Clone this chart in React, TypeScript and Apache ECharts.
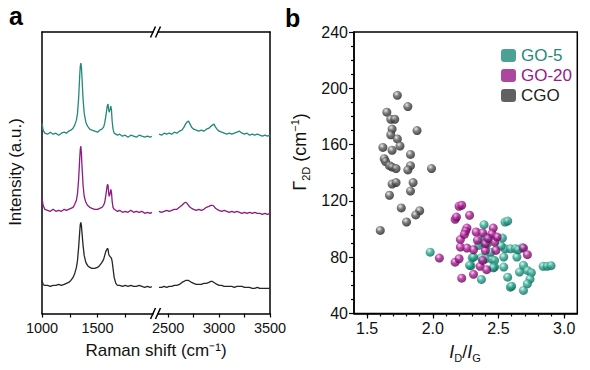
import React, { useEffect, useRef } from 'react';
import * as echarts from 'echarts';

// ---------- Panel a: Raman spectra ----------
const leftShift = [1000,1010,1025,1050,1075,1100,1125,1150,1175,1200,1220,1240,1260,1280,1295,1310,1320,1330,1340,1345,1350,1355,1360,1370,1380,1395,1410,1430,1450,1475,1500,1520,1540,1555,1565,1575,1585,1590,1595,1600,1605,1612,1620,1626,1632,1640,1650,1665,1680,1700,1725,1750,1775,1800,1825,1850,1875,1900,1925,1950,1975,1990];
const rightShift = [2410,2435,2460,2485,2510,2535,2560,2585,2610,2635,2655,2670,2685,2700,2715,2730,2750,2775,2800,2825,2850,2875,2900,2920,2935,2950,2965,2980,3000,3025,3050,3075,3100,3125,3150,3175,3200,3225,3250,3275,3300,3325,3350,3375,3400,3425,3450,3475,3500];

const go5Left = [190,183,180,179,181,179,180,178,180,181,180,182,183,185,188,193,200,215,238,247,250,246,236,214,200,191,187,184,183,182,181,183,184,186,190,197,205,208,209,204,201,203,207,203,192,184,180,179,178,179,177,178,176,178,177,176,178,177,176,177,176,177];
const go20Left = [115,108,104,103,102,104,102,103,102,104,103,104,105,106,109,113,120,134,155,164,167,160,148,128,117,111,108,106,105,104,104,105,106,108,111,118,126,129,128,121,117,119,124,121,112,106,104,103,102,103,101,102,101,103,101,102,101,102,100,101,100,101];
const cgoLeft = [33,29,28,28,27,28,28,29,28,29,30,31,33,36,40,46,53,66,82,89,91,88,81,68,58,51,48,46,45,45,46,48,51,54,58,62,64,65,64,60,58,57,56,55,52,45,36,30,28,28,27,28,27,28,27,27,28,27,26,27,26,27];

const go5Right = [179,178,180,179,180,179,181,180,182,183,186,189,191,192,189,186,184,183,182,183,182,184,185,187,188,189,186,184,182,181,180,179,180,179,180,181,182,180,179,180,178,179,178,179,178,177,178,177,178];
const go20Right = [102,101,102,103,102,103,104,104,106,108,110,111,110,108,106,105,104,103,104,103,104,106,107,108,108,107,105,104,103,102,103,102,101,102,101,102,101,100,101,100,101,100,101,100,100,99,100,99,100];
const cgoRight = [26,26,27,26,27,27,28,28,29,31,32,33,33,33,32,31,30,29,29,29,30,30,31,32,32,31,30,29,28,28,27,27,27,27,26,27,27,27,26,26,26,25,25,26,25,25,25,25,25];

const ramanTicksLeft = [1000, 1250, 1500, 1750];
const ramanLabelsLeft = [1000, 1500];
const ramanTicksRight = [2500, 2750, 3000, 3250, 3500];
const ramanLabelsRight = [2500, 3000, 3500];

// ---------- Panel b: Gamma_2D vs ID/IG ----------
const cgoRatio = [1.73,1.81,1.65,1.68,1.71,1.88,1.69,1.68,1.73,1.75,1.62,1.69,1.83,1.63,1.64,1.67,1.69,1.72,1.83,1.81,1.99,1.69,1.72,1.85,1.83,1.67,1.76,1.90,1.87,1.80,1.60];
const cgoWidth = [195,187,183,178,178,170,171,167,164,159,158,156,153,150,148,145,144,143,145,142,143,132,133,133,127,124,115,113,110,105,99];

const go20Ratio = [2.20,2.22,2.28,2.17,2.18,2.26,2.25,2.33,2.38,2.46,2.45,2.21,2.24,2.21,2.26,2.31,2.40,2.48,2.47,2.49,2.05,2.17,2.20,2.36,2.41,2.22,2.31,2.69,2.72,2.38,2.40,2.42,2.34];
const go20Width = [116.2,116.9,109.8,106.9,108.5,100.7,98.6,97.9,97.2,100.7,96.7,92.5,96.2,87.2,86.5,85.3,84.8,84.8,90.7,94.3,79.4,76.5,78.9,73.5,71.1,65.1,67.8,86.5,81.8,77.7,89.6,93.2,92.0];

const go5Ratio = [1.98,2.39,2.55,2.57,2.53,2.40,2.44,2.36,2.41,2.35,2.30,2.29,2.37,2.37,2.40,2.45,2.47,2.47,2.28,2.55,2.59,2.63,2.68,2.54,2.64,2.65,2.54,2.46,2.57,2.59,2.66,2.69,2.72,2.75,2.74,2.72,2.69,2.60,2.84,2.87,2.90,2.31,2.52,2.44];
const go5Width = [83.6,103.1,105.0,105.7,93.6,94.3,93.2,90.7,89.0,88.4,79.6,74.0,64.2,79.6,78.9,78.4,77.7,73.0,74.2,86.0,86.0,86.0,86.8,80.1,80.1,85.3,73.0,72.5,65.8,58.7,69.4,74.2,70.6,69.0,64.5,61.1,56.4,59.4,73.5,73.5,74.0,80.1,88.0,83.6];

const ratioMajorTicks = [1.5, 2.0, 2.5, 3.0];
const ratioMinorTicks = [1.5,1.6,1.7,1.8,1.9,2.0,2.1,2.2,2.3,2.4,2.5,2.6,2.7,2.8,2.9,3.0];

const FONT = '"Liberation Sans", Arial, Helvetica, sans-serif';
const TEAL = '#1e8a78';
const MAGENTA = '#971886';

const pairs = (xs: number[], ys: number[]) => xs.map((x, i) => [x, ys[i]]);

const sphere = (hi: string, mid: string, dark: string) => ({
  type: 'radial', x: 0.38, y: 0.32, r: 0.7,
  colorStops: [
    { offset: 0, color: hi },
    { offset: 0.45, color: mid },
    { offset: 1, color: dark },
  ],
});

export default function App() {
  const ref = useRef<HTMLDivElement>(null);
  useEffect(() => {
    if (!ref.current) return;
    const chart = echarts.init(ref.current, undefined, { renderer: 'svg' });
    const axisLine = { show: true, lineStyle: { color: '#000', width: 1.5 } };
    const hiddenAxis = { axisTick: { show: false }, axisLabel: { show: false }, splitLine: { show: false } };
    const ramanLabel = { fontSize: 14.5, color: '#111', fontFamily: FONT, margin: 7, formatter: (v: number) => String(v) };

    const lineSeries = (name: string, xi: number, xs: number[], ys: number[], color: string) => ({
      name, type: 'line', xAxisIndex: xi, yAxisIndex: xi < 2 ? 0 : 1,
      data: pairs(xs, ys), showSymbol: false, symbol: 'none',
      lineStyle: { color, width: 1.3 }, itemStyle: { color }, silent: true,
    });

    const breakLines = (y: number) => [
      { type: 'line', shape: { x1: 150.5, y1: y + 5.5, x2: 155.5, y2: y - 5.5 }, style: { stroke: '#000', lineWidth: 1.5 } },
      { type: 'line', shape: { x1: 155.5, y1: y + 5.5, x2: 160.5, y2: y - 5.5 }, style: { stroke: '#000', lineWidth: 1.5 } },
    ];

    chart.setOption({
      animation: false,
      backgroundColor: '#fff',
      grid: [
        { left: 42, top: 32, width: 111, height: 281.5 },
        { left: 158, top: 32, width: 112, height: 281.5 },
        { left: 354, top: 32, width: 223.3, height: 281.5, show: true, borderColor: '#000', borderWidth: 1.5, backgroundColor: 'transparent' },
      ],
      xAxis: [
        { gridIndex: 0, type: 'value', position: 'bottom', min: 1000, max: 2000, axisLine,
          axisTick: { show: true, length: 4, lineStyle: { color: '#000', width: 1.2 }, customValues: ramanTicksLeft },
          axisLabel: { ...ramanLabel, customValues: ramanLabelsLeft }, splitLine: { show: false } },
        { gridIndex: 0, type: 'value', position: 'top', min: 1000, max: 2000, axisLine, ...hiddenAxis },
        { gridIndex: 1, type: 'value', position: 'bottom', min: 2400, max: 3500, axisLine,
          axisTick: { show: true, length: 4, lineStyle: { color: '#000', width: 1.2 }, customValues: ramanTicksRight },
          axisLabel: { ...ramanLabel, customValues: ramanLabelsRight }, splitLine: { show: false } },
        { gridIndex: 1, type: 'value', position: 'top', min: 2400, max: 3500, axisLine, ...hiddenAxis },
        { gridIndex: 2, type: 'value', position: 'bottom', min: 1.4, max: 3.1, axisLine,
          axisTick: { show: true, length: 5, lineStyle: { color: '#000', width: 1.2 }, customValues: ratioMajorTicks },
          axisLabel: { fontSize: 16, color: '#111', fontFamily: FONT, margin: 7, customValues: ratioMajorTicks, formatter: (v: number) => v.toFixed(1) },
          splitLine: { show: false } },
        { gridIndex: 2, type: 'value', position: 'bottom', min: 1.4, max: 3.1, axisLine: { show: false },
          axisTick: { show: true, length: 3, lineStyle: { color: '#000', width: 1.2 }, customValues: ratioMinorTicks },
          axisLabel: { show: false }, splitLine: { show: false } },
      ],
      yAxis: [
        { gridIndex: 0, type: 'value', position: 'left', min: 0, max: 281, axisLine, ...hiddenAxis },
        { gridIndex: 1, type: 'value', position: 'right', min: 0, max: 281, axisLine, ...hiddenAxis },
        { gridIndex: 2, type: 'value', position: 'left', min: 40, max: 240, interval: 40, axisLine,
          axisTick: { show: true, length: 5, lineStyle: { color: '#000', width: 1.2 } },
          minorTick: { show: true, splitNumber: 4, length: 3, lineStyle: { color: '#000', width: 1.2 } },
          axisLabel: { fontSize: 16, color: '#111', fontFamily: FONT, margin: 6 },
          splitLine: { show: false }, minorSplitLine: { show: false } },
      ],
      legend: {
        orient: 'vertical', left: 496, top: 42, itemWidth: 15, itemHeight: 13, itemGap: 3,
        icon: 'roundRect', selectedMode: false,
        textStyle: { fontSize: 17, fontFamily: FONT, lineHeight: 17 },
        data: [
          { name: 'GO-5', itemStyle: { color: TEAL }, textStyle: { color: TEAL } },
          { name: 'GO-20', itemStyle: { color: MAGENTA }, textStyle: { color: MAGENTA } },
          { name: 'CGO', itemStyle: { color: '#3a3a3a' }, textStyle: { color: '#222' } },
        ],
      },
      series: [
        lineSeries('GO-5 spectrum L', 0, leftShift, go5Left, '#23897a'),
        lineSeries('GO-20 spectrum L', 0, leftShift, go20Left, '#8c1a80'),
        lineSeries('CGO spectrum L', 0, leftShift, cgoLeft, '#262626'),
        lineSeries('GO-5 spectrum R', 2, rightShift, go5Right, '#23897a'),
        lineSeries('GO-20 spectrum R', 2, rightShift, go20Right, '#8c1a80'),
        lineSeries('CGO spectrum R', 2, rightShift, cgoRight, '#262626'),
        { name: 'CGO', type: 'scatter', xAxisIndex: 4, yAxisIndex: 2, symbolSize: 9,
          data: pairs(cgoRatio, cgoWidth), itemStyle: { color: sphere('#e6e6e6', '#5a5a5a', '#1c1c1c') } },
        { name: 'GO-5', type: 'scatter', xAxisIndex: 4, yAxisIndex: 2, symbolSize: 9,
          data: pairs(go5Ratio, go5Width), itemStyle: { color: sphere('#d2f3ea', '#2aa690', '#0c5f51') } },
        { name: 'GO-20', type: 'scatter', xAxisIndex: 4, yAxisIndex: 2, symbolSize: 9,
          data: pairs(go20Ratio, go20Width), itemStyle: { color: sphere('#f6c2ec', '#aa1893', '#5a064c') } },
      ],
      graphic: [
        { type: 'text', x: 9, y: 16, style: { text: 'a', font: `bold 25px ${FONT}`, fill: '#000', verticalAlign: 'middle' } },
        { type: 'text', x: 285, y: 18, style: { text: 'b', font: `bold 25px ${FONT}`, fill: '#000', verticalAlign: 'middle' } },
        { type: 'text', x: 15.5, y: 172, rotation: Math.PI / 2,
          style: { text: 'Intensity (a.u.)', font: `17px ${FONT}`, fill: '#111', align: 'center', verticalAlign: 'middle' } },
        { type: 'text', x: 156, y: 350,
          style: { text: 'Raman shift (cm⁻¹)', font: `17px ${FONT}`, fill: '#111', align: 'center', verticalAlign: 'middle' } },
        { type: 'text', x: 300, y: 152, rotation: Math.PI / 2,
          style: {
            text: '{g|Γ}{s|2D}{n| (cm}{p|−1}{n|)}', align: 'center', verticalAlign: 'middle',
            rich: {
              g: { fontSize: 18, fontFamily: FONT, fill: '#111', lineHeight: 22 },
              n: { fontSize: 18, fontFamily: FONT, fill: '#111', lineHeight: 22 },
              s: { fontSize: 11, fontFamily: FONT, fill: '#111', verticalAlign: 'bottom', lineHeight: 11 },
              p: { fontSize: 11, fontFamily: FONT, fill: '#111', verticalAlign: 'top', lineHeight: 11 },
            },
          } },
        { type: 'text', x: 465, y: 352,
          style: {
            text: '{i|I}{s|D}{n|/}{i|I}{s|G}', align: 'center', verticalAlign: 'middle',
            rich: {
              i: { fontSize: 18, fontFamily: FONT, fontStyle: 'italic', fill: '#111', lineHeight: 22 },
              n: { fontSize: 18, fontFamily: FONT, fill: '#111', lineHeight: 22 },
              s: { fontSize: 11, fontFamily: FONT, fill: '#111', verticalAlign: 'bottom', lineHeight: 11 },
            },
          } },
        ...breakLines(313.5),
        ...breakLines(32),
      ],
    });
    return () => chart.dispose();
  }, []);
  return <div ref={ref} style={{ width: 590, height: 370, position: 'absolute', left: 0, top: 0 }} />;
}
